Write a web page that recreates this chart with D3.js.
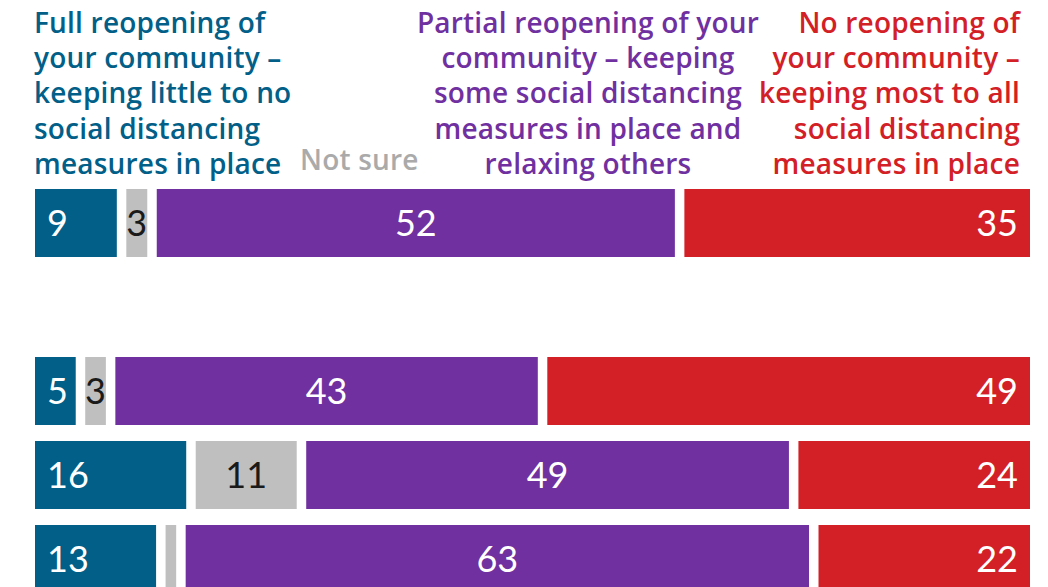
<!DOCTYPE html>
<html>
<head>
<meta charset="utf-8">
<script src="https://cdn.jsdelivr.net/npm/d3@7"></script>
<style>
  body { margin: 0; background: #fff; }
  svg { display: block; }
</style>
</head>
<body>
<div id="chart"></div>
<script>
// rows of the chart (the second slot is left empty in the original)
const rows = ['Row 1', '', 'Row 2', 'Row 3', 'Row 4'];

// series values, one per row
const full = [9, null, 5, 16, 13];
const notSure = [3, null, 3, 11, 2];
const partial = [52, null, 43, 49, 63];
const noReopen = [35, null, 49, 24, 22];

const seriesNames = ['full', 'notSure', 'partial', 'noReopen'];
const seriesColors = ['#015f88', '#bfbfbf', '#70309f', '#d32027'];
const labelColors = ['#015f88', '#aaaaaa', '#70309f', '#d32027'];

const headerFull = ['Full reopening of', 'your community \u2013', 'keeping little to no', 'social distancing', 'measures in place'];
const headerNotSure = ['Not sure'];
const headerPartial = ['Partial reopening of your', 'community \u2013 keeping', 'some social distancing', 'measures in place and', 'relaxing others'];
const headerNo = ['No reopening of', 'your community \u2013', 'keeping most to all', 'social distancing', 'measures in place'];

const width = 1048;
const height = 587;
const gap = 9.5;
const left = 35;
const right = 1030;

const table = rows.map((r, i) => ({
  row: r,
  full: full[i], notSure: notSure[i], partial: partial[i], noReopen: noReopen[i]
}));

const svg = d3.select('#chart')
  .append('svg')
  .attr('width', width)
  .attr('height', height)
  .attr('viewBox', [0, 0, width, height]);

const y = d3.scaleBand()
  .domain(d3.range(rows.length))
  .range([189, 593])
  .paddingInner(16 / 84)
  .paddingOuter(0);

const color = d3.scaleOrdinal(seriesNames, seriesColors);

// header labels
const headFont = '"Open Sans", Lato, sans-serif';
const numFont = 'Lato, "Open Sans", sans-serif';
const lineH = 35.2;
const firstBase = 33;

function header(lines, x, anchor, fill, base) {
  const t = svg.append('text')
    .attr('x', x)
    .attr('y', base)
    .attr('text-anchor', anchor)
    .attr('fill', fill)
    .style('font-family', headFont)
    .style('font-weight', 600)
    .style('font-size', '28px')
    .style('letter-spacing', '0.2px');
  lines.forEach((l, i) => {
    t.append('tspan')
      .attr('x', x)
      .attr('dy', i === 0 ? 0 : lineH)
      .text(l);
  });
}
header(headerFull, 34, 'start', labelColors[0], firstBase);
header(headerNotSure, 300, 'start', labelColors[1], 170);
header(headerPartial, 588, 'middle', labelColors[2], firstBase);
header(headerNo, 1020, 'end', labelColors[3], firstBase);

// bars
table.forEach((d, i) => {
  if (d.full == null) return;
  const total = d3.sum(seriesNames, k => d[k]);
  const x = d3.scaleLinear().domain([0, total]).range([left, right + gap]);
  let cum = 0;
  const segs = seriesNames.map((k, j) => {
    const s = { key: k, idx: j, value: d[k], x0: x(cum), x1: x(cum + d[k]) - gap };
    cum += d[k];
    return s;
  });
  const g = svg.append('g').attr('transform', `translate(0,${y(i)})`);
  g.selectAll('rect')
    .data(segs)
    .join('rect')
    .attr('x', s => s.x0)
    .attr('y', 0)
    .attr('width', s => Math.max(0, s.x1 - s.x0))
    .attr('height', y.bandwidth())
    .attr('fill', s => color(s.key));
  g.selectAll('text')
    .data(segs.filter(s => s.value >= 3))
    .join('text')
    .attr('x', s => s.idx === 0 ? s.x0 + 12 : s.idx === 3 ? s.x1 - 12 : (s.x0 + s.x1) / 2)
    .attr('y', y.bandwidth() / 2 + 13)
    .attr('text-anchor', s => s.idx === 0 ? 'start' : s.idx === 3 ? 'end' : 'middle')
    .attr('fill', s => s.idx === 1 ? '#1a1a1a' : '#fff')
    .style('font-family', numFont)
    .style('font-weight', 400)
    .style('font-size', '36px')
    .text(s => s.value);
});
</script>
</body>
</html>
